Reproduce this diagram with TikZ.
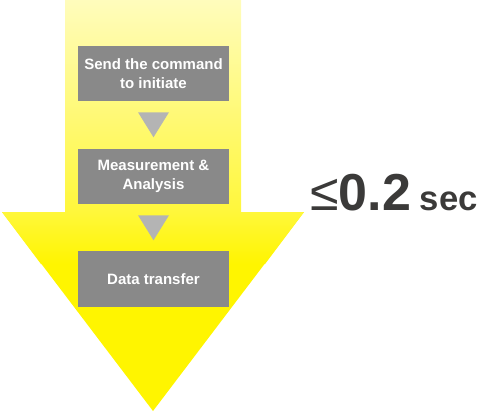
\documentclass[tikz,border=0pt]{standalone}
\usepackage{fontspec}
\setmainfont{Liberation Sans}
\usetikzlibrary{positioning,calc}

\definecolor{paleyellow}{HTML}{FFFCBC}
\definecolor{midyellow}{HTML}{FFF73A}
\definecolor{fullyellow}{HTML}{FFF500}
\definecolor{boxgray}{HTML}{898989}
\definecolor{trigray}{HTML}{B4B4B4}
\definecolor{textdark}{HTML}{3B3A39}

\begin{document}
\begin{tikzpicture}[x=0.75pt, y=-0.75pt,
    step box/.style={fill=boxgray, text=white, align=center,
      minimum width=113.25pt, minimum height=41.25pt, inner sep=0pt,
      font=\fontsize{11.25}{14.3}\selectfont\bfseries},
    pointer/.style={fill=trigray}]

  \useasboundingbox (0,0) rectangle (481,412);

  % big yellow arrow: shaft, then head
  \shade[top color=paleyellow, bottom color=midyellow]
    (65,0) rectangle (241,213);
  \fill[fullyellow] (2,212) -- (304,212) -- (153,411) -- cycle;
  \shade[top color=midyellow, bottom color=fullyellow]
    (2,212) -- (304,212) -- (265,264) -- (41,264) -- cycle;

  % steps
  \node[step box] (send) at (153.5,73.5) {Send the command\\to initiate};
  \node[step box] (measure) at (153.5,176.5) {Measurement \&\\Analysis};
  \node[step box, minimum height=42pt] (transfer) at (153.5,279) {Data transfer};

  % pointers between steps
  \fill[pointer] ($(send.south)+(-15.5,11)$) -- ($(send.south)+(15.5,11)$)
    -- ($(send.south)+(0,36)$) -- cycle;
  \fill[pointer] ($(measure.south)+(-15.5,11)$) -- ($(measure.south)+(15.5,11)$)
    -- ($(measure.south)+(0,36)$) -- cycle;

  % time label
  \node[anchor=base west, inner sep=0pt, text=textdark] (time) at (310,210)
    {\fontsize{39}{39}\selectfont\bfseries{\mdseries ≤}0.2\,\fontsize{26}{26}\selectfont sec};

\end{tikzpicture}
\end{document}
